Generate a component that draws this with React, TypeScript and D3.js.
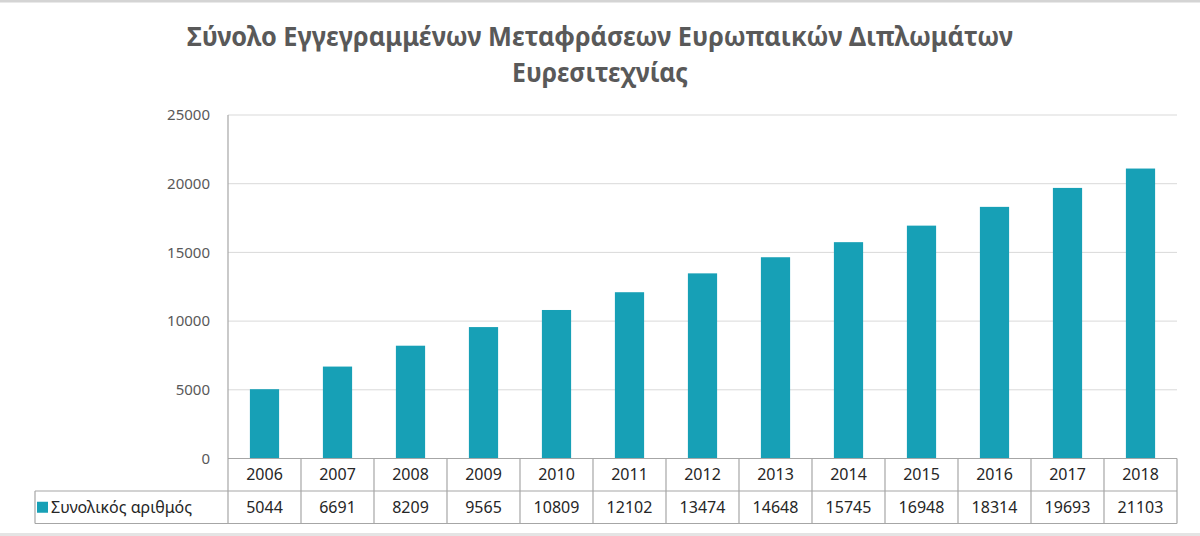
import React from 'react';
import * as d3 from 'd3';

const years = ['2006', '2007', '2008', '2009', '2010', '2011', '2012', '2013', '2014', '2015', '2016', '2017', '2018'];
const totals = [5044, 6691, 8209, 9565, 10809, 12102, 13474, 14648, 15745, 16948, 18314, 19693, 21103];
const yTicks = [0, 5000, 10000, 15000, 20000, 25000];
const titleLines = ['Σύνολο Εγγεγραμμένων Μεταφράσεων Ευρωπαικών Διπλωμάτων', 'Ευρεσιτεχνίας'];
const seriesName = 'Συνολικός αριθμός';

const W = 1200;
const H = 536;
const BAR = '#17a0b6';
const GRID = '#d9d9d9';
const BORDER = '#a6a6a6';
const FONT = "'Noto Sans', 'Open Sans', sans-serif";

export default function App() {
  const left = 228;
  const right = 1177;
  const top = 115;
  const base = 458.5;
  const rowH = 32.5;
  const legendLeft = 35;

  const x = d3.scaleBand<string>().domain(years).range([left, right]).padding(0);
  const y = d3.scaleLinear().domain([0, 25000]).range([base, top]);
  const bw = x.bandwidth() * 0.4;
  const bottom = base + rowH * 2;

  return (
    <div style={{ position: 'absolute', left: 0, top: 0 }}>
      <svg width={W} height={H} style={{ display: 'block', fontFamily: FONT }}>
        <rect x={0} y={0} width={W} height={H} fill="#fff" />
        <line x1={0} x2={W} y1={1} y2={1} stroke="#d4d4d4" strokeWidth={3} />
        <rect x={0} y={533} width={W} height={3} fill="#e4e4e4" />

        {/* title */}
        <g fill="#595959" fontWeight={700} textAnchor="middle" fontSize={27}>
          <text x={600} y={46} textLength={826} lengthAdjust="spacingAndGlyphs">{titleLines[0]}</text>
          <text x={600} y={82} textLength={176} lengthAdjust="spacingAndGlyphs">{titleLines[1]}</text>
        </g>

        {/* gridlines and y labels */}
        {yTicks.map(t => (
          <g key={t}>
            {t > 0 && <line x1={left} x2={right} y1={y(t)} y2={y(t)} stroke={GRID} strokeWidth={1} />}
            <text x={210} y={y(t)} dy="0.35em" textAnchor="end" fontSize={15} fill="#595959">{t}</text>
          </g>
        ))}

        {/* bars */}
        {years.map((yr, i) => (
          <rect key={yr}
            x={(x(yr) || 0) + (x.bandwidth() - bw) / 2}
            y={y(totals[i])}
            width={bw}
            height={base - y(totals[i])}
            fill={BAR} />
        ))}

        {/* data table */}
        <g stroke={BORDER} strokeWidth={1.2} fill="none">
          <line x1={left} x2={left} y1={top} y2={bottom} />
          <line x1={left} x2={right} y1={base} y2={base} />
          <line x1={legendLeft} x2={right} y1={base + rowH} y2={base + rowH} />
          <line x1={legendLeft} x2={right} y1={bottom} y2={bottom} />
          <line x1={legendLeft} x2={legendLeft} y1={base + rowH} y2={bottom} />
          {years.map(yr => (
            <line key={yr} x1={(x(yr) || 0) + x.bandwidth()} x2={(x(yr) || 0) + x.bandwidth()} y1={base} y2={bottom} />
          ))}
        </g>
        <g fontSize={16} fill="#262626" textAnchor="middle">
          {years.map((yr, i) => (
            <g key={yr}>
              <text x={(x(yr) || 0) + x.bandwidth() / 2} y={base + rowH / 2} dy="0.35em">{yr}</text>
              <text x={(x(yr) || 0) + x.bandwidth() / 2} y={base + rowH * 1.5} dy="0.35em">{totals[i]}</text>
            </g>
          ))}
        </g>
        <rect x={37} y={base + rowH * 1.5 - 5.5} width={11} height={11} fill={BAR} />
        <text x={51} y={base + rowH * 1.5} dy="0.35em" fontSize={16} fill="#262626">{seriesName}</text>
      </svg>
    </div>
  );
}
